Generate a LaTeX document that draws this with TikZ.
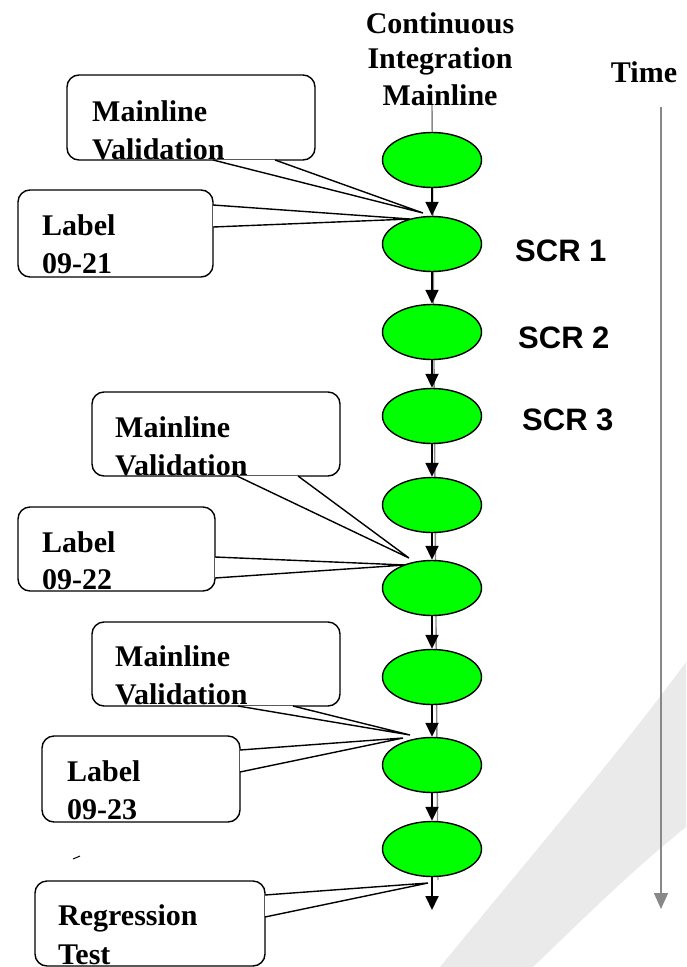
\documentclass[tikz,border=0pt]{standalone}
\usepackage{fontspec}
\setmainfont{Liberation Serif}
\newfontfamily\arialfont{Liberation Sans}
\usetikzlibrary{shapes.geometric,arrows.meta}

\definecolor{commitgreen}{RGB}{0,255,0}
\definecolor{timegray}{RGB}{136,136,136}
\definecolor{swooshgray}{RGB}{234,234,234}

\tikzset{
  commit/.style={ellipse, draw=black, line width=1.4pt, fill=commitgreen,
    minimum width=99pt, minimum height=55pt, inner sep=0pt},
  flow/.style={line width=1.8pt, -{Triangle[width=13pt,length=14pt]}},
  mainline/.style={draw=timegray, line width=1.4pt},
  timeaxis/.style={draw=timegray, line width=1.6pt,
    -{Triangle[width=14pt,length=16pt]}, color=timegray},
  callbox/.style={draw=black, fill=white, line width=1.4pt, rounded corners=12pt},
  callline/.style={draw=black, line width=1.4pt, line join=miter},
  calltext/.style={anchor=base west, inner sep=0pt,
    font=\fontsize{30}{36}\selectfont\bfseries},
  headtext/.style={anchor=base, inner sep=0pt,
    font=\fontsize{30}{36}\selectfont\bfseries},
  scrtext/.style={anchor=base west, inner sep=0pt,
    font=\arialfont\fontsize{31}{36}\selectfont\bfseries},
}

% rounded box with a pointed wedge: box corners, two wedge base points, tip
\newcommand{\callout}[5]{%
  \path[callbox] #1;
  \fill[white] #2 -- #4 -- #3 -- cycle;
  \draw[callline] #2 -- #4 -- #3;
}

\begin{document}
\begin{tikzpicture}[x=1pt, y=-1pt]
\useasboundingbox (0,0) rectangle (686,967);

% background swoosh
\fill[swooshgray] (440,967) .. controls (540,845) and (620,752) .. (686,662)
  -- (686,827) .. controls (630,872) and (580,922) .. (533,967) -- cycle;

% time axis
\coordinate (ttop) at (661,107);
\coordinate (tend) at (661,909);
\draw[timeaxis] (ttop) -- (tend);
\node[headtext] (time) at (644,82) {Time};

% heading
\node[headtext] (h1) at (440,33) {Continuous};
\node[headtext] (h2) at (440,68) {Integration};
\node[headtext] (h3) at (440,105) {Mainline};

% mainline trunk
\coordinate (mtop) at (432,105);
\coordinate (mbot) at (438,880);
\draw[mainline] (mtop) -- (mbot);

% callouts
\coordinate (t1) at (423,213);
\callout{(67,75) rectangle (315,160)}{(213,160)}{(275,160)}{(t1)}{}
\coordinate (t2) at (410,219);
\callout{(18,190) rectangle (213,277)}{(213,205)}{(213,227)}{(t2)}{}
\coordinate (t3) at (409,558);
\callout{(92,392) rectangle (340,476)}{(237,476)}{(298,476)}{(t3)}{}
\coordinate (t4) at (405,565);
\callout{(18,507) rectangle (215,591)}{(215,557)}{(215,578)}{(t4)}{}
\coordinate (t5) at (410,735);
\callout{(92,622) rectangle (340,706)}{(238,706)}{(293,706)}{(t5)}{}
\coordinate (t6) at (403,738);
\callout{(42,736) rectangle (240,822)}{(240,750)}{(240,772)}{(t6)}{}
\coordinate (t7) at (428,883);
\callout{(35,881) rectangle (265,966)}{(265,895)}{(265,917)}{(t7)}{}

\node[calltext] (v1a) at (92,121) {Mainline};
\node[calltext] (v1b) at (92,159) {Validation};
\node[calltext] (l1a) at (42,235) {Label};
\node[calltext] (l1b) at (42,273) {09-21};
\node[calltext] (v2a) at (115,437) {Mainline};
\node[calltext] (v2b) at (115,475) {Validation};
\node[calltext] (l2a) at (42,552) {Label};
\node[calltext] (l2b) at (42,589) {09-22};
\node[calltext] (v3a) at (115,666) {Mainline};
\node[calltext] (v3b) at (115,704) {Validation};
\node[calltext] (l3a) at (67,781) {Label};
\node[calltext] (l3b) at (67,819) {09-23};
\node[calltext] (r1) at (58,925) {Regression};
\node[calltext] (r2) at (58,964) {Test};

% stray mark
\coordinate (sm1) at (73,859);
\coordinate (sm2) at (80,856);
\draw[line width=1pt] (sm1) -- (sm2);

% commits
\node[commit] (e1) at (432,160) {};
\node[commit] (e2) at (432,244) {};
\node[commit] (e3) at (432,332) {};
\node[commit] (e4) at (432,416) {};
\node[commit] (e5) at (432,505) {};
\node[commit] (e6) at (432,588) {};
\node[commit] (e7) at (432,677) {};
\node[commit] (e8) at (432,765) {};
\node[commit] (e9) at (432,849) {};
\coordinate (eend) at (432,910);

\foreach \a/\b in {e1/e2,e2/e3,e3/e4,e4/e5,e5/e6,e6/e7,e7/e8,e8/e9,e9/eend}
  \draw[flow] (\a) -- (\b);

% change labels
\node[scrtext] (s1) at (515,261) {SCR 1};
\node[scrtext] (s2) at (518,348) {SCR 2};
\node[scrtext] (s3) at (522,430) {SCR 3};
\end{tikzpicture}
\end{document}
